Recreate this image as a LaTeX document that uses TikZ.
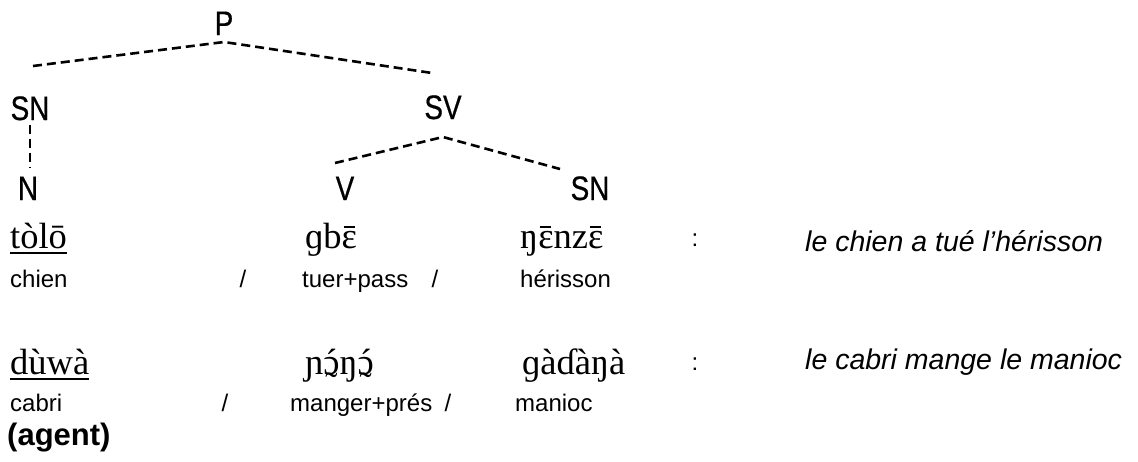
\documentclass[tikz,border=0pt]{standalone}
\usepackage{fontspec}
\setmainfont{Liberation Serif}
\setsansfont{Liberation Sans}
\newfontfamily\narrow[FakeStretch=0.82,FakeBold=0.6]{Liberation Sans}
% signe diacritique pose sur une lettre
\newcommand\mk[3]{\ooalign{#1\cr\hidewidth\smash{\raisebox{#3}{#2}}\hidewidth\cr}}
\newcommand\eps{\mk{ɛ}{\rule{0.3em}{0.04em}}{0.55em}}
\newcommand\oo{\mk{\mk{ɔ}{´}{0em}}{˜}{-0.64em}}
\tikzset{
  tree/.style={font=\narrow\fontsize{34}{40}\selectfont, inner sep=0pt, anchor=base},
  word/.style={font=\fontsize{36.5}{42}\selectfont, inner sep=0pt, anchor=base west},
  gloss/.style={font=\sffamily\fontsize{24}{29}\selectfont, inner sep=0pt, anchor=base west},
  trad/.style={font=\sffamily\itshape\fontsize{28.5}{34}\selectfont, inner sep=0pt, anchor=base west},
  branch/.style={line width=2.6pt, dash pattern=on 9pt off 5pt},
}
\begin{document}
\begin{tikzpicture}[x=1pt,y=-1pt]
\useasboundingbox (0,0) rectangle (1138,461);
% arbre
\node[tree] (P) at (224,35) {P};
\node[tree] (SNa) at (30,120) {SN};
\node[tree] (SV) at (443,119) {SV};
\node[tree] (N) at (28,200) {N};
\node[tree] (V) at (345,200) {V};
\node[tree] (SNb) at (590,200) {SN};
\coordinate (Pa) at (224,42);
\coordinate (SNl) at (33,66);
\coordinate (SVr) at (432,73);
\coordinate (SVa) at (443,137);
\coordinate (Vl) at (335,163);
\coordinate (SNr) at (560,169);
\draw[branch] (SNl) -- (Pa) -- (SVr);
\draw[branch] (Vl) -- (SVa) -- (SNr);
\draw[branch] ([yshift=-4pt]SNa.south) -- ([yshift=8pt]SNa.south |- N.north);
% phrase 1
\node[word] (tolo) at (10,248) {tòlō};
\draw[line width=1.5pt] ([yshift=-5pt]tolo.base west) -- ([yshift=-5pt]tolo.base east);
\node[word] (gbe) at (305,248) {ɡb\eps};
\node[word] (nenze) at (520,248) {ŋ\eps nz\eps};
\node[gloss,anchor=base] (ca) at (695,246) {:};
\node[trad] (tra) at (805,251) {le chien a tué l’hérisson};
\node[gloss] (chien) at (10,287) {chien};
\node[gloss,anchor=base] (sla) at (243,287) {/};
\node[gloss] (tuer) at (302,287) {tuer+pass};
\node[gloss,anchor=base] (slb) at (435,287) {/};
\node[gloss] (heri) at (520,287) {hérisson};
% phrase 2
\node[word] (duwa) at (10,374) {dùwà};
\draw[line width=1.5pt] ([yshift=-5pt]duwa.base west) -- ([yshift=-5pt]duwa.base east);
\node[word] (nono) at (305,374) {ɲ\oo ŋ\oo};
\node[word] (gada) at (522,374) {ɡàɗàŋà};
\node[gloss,anchor=base] (cb) at (695,370) {:};
\node[trad] (trb) at (805,369) {le cabri mange le manioc};
\node[gloss] (cabri) at (10,411) {cabri};
\node[gloss,anchor=base] (slc) at (225,411) {/};
\node[gloss] (manger) at (290,411) {manger+prés};
\node[gloss,anchor=base] (sld) at (448,411) {/};
\node[gloss] (manioc) at (515,411) {manioc};
\node[gloss,font=\sffamily\bfseries\fontsize{31}{36}\selectfont] (agent) at (7,445) {(agent)};
\end{tikzpicture}
\end{document}
